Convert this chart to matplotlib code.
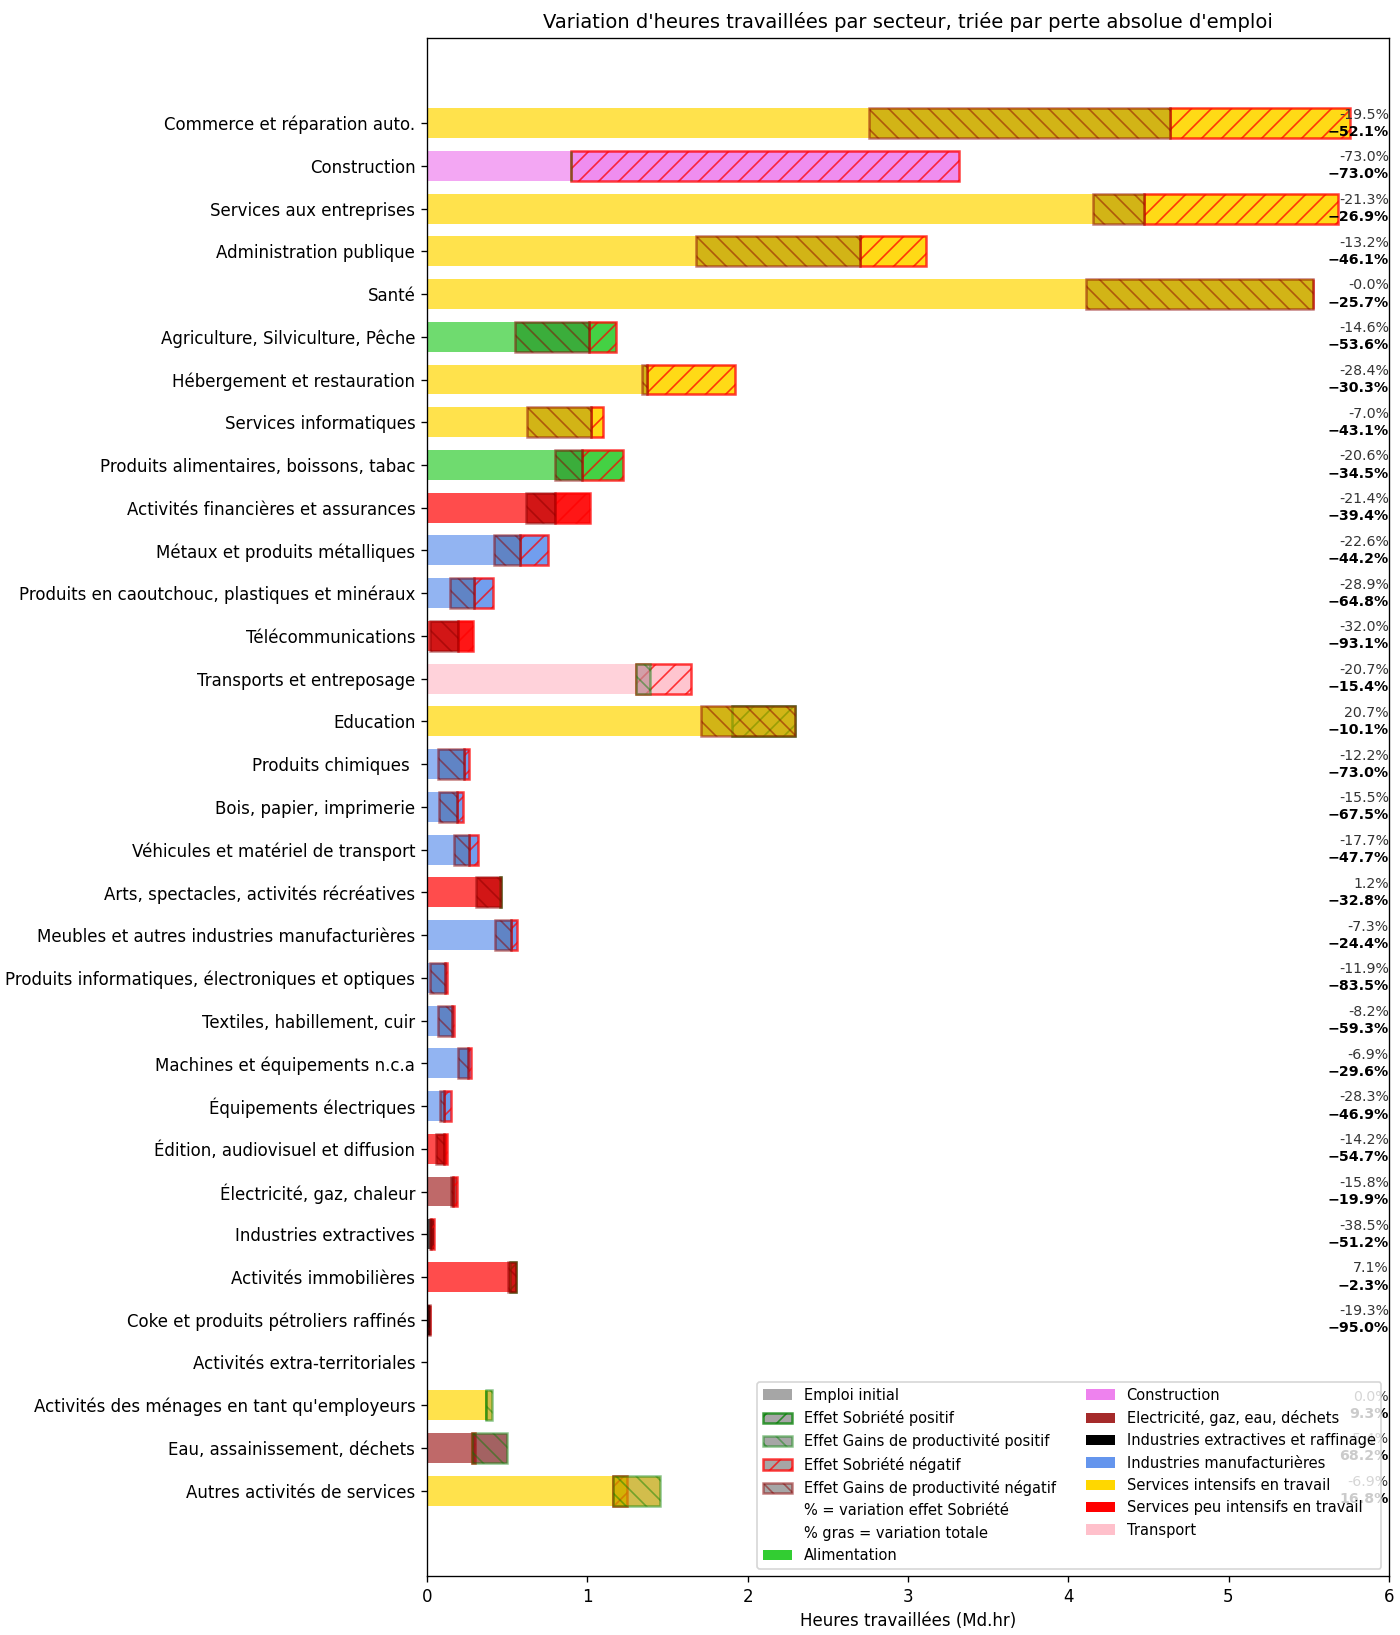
import numpy as np
import matplotlib
matplotlib.use("Agg")
import matplotlib.pyplot as plt
from matplotlib.patches import Patch
from matplotlib.colors import to_rgb


# ================================== data ====================================

secteurs = [
    "Commerce et réparation auto.",
    "Construction",
    "Services aux entreprises",
    "Administration publique",
    "Santé",
    "Agriculture, Silviculture, Pêche",
    "Hébergement et restauration",
    "Services informatiques",
    "Produits alimentaires, boissons, tabac",
    "Activités financières et assurances",
    "Métaux et produits métalliques",
    "Produits en caoutchouc, plastiques et minéraux",
    "Télécommunications",
    "Transports et entreposage",
    "Education",
    "Produits chimiques ",
    "Bois, papier, imprimerie",
    "Véhicules et matériel de transport",
    "Arts, spectacles, activités récréatives",
    "Meubles et autres industries manufacturières",
    "Produits informatiques, électroniques et optiques",
    "Textiles, habillement, cuir",
    "Machines et équipements n.c.a",
    "Équipements électriques",
    "Édition, audiovisuel et diffusion",
    "Électricité, gaz, chaleur",
    "Industries extractives",
    "Activités immobilières",
    "Coke et produits pétroliers raffinés",
    "Activités extra-territoriales",
    "Activités des ménages en tant qu'employeurs",
    "Eau, assainissement, déchets",
    "Autres activités de services",
]

groupes = [
    "Services intensifs en travail", "Construction", "Services intensifs en travail",
    "Services intensifs en travail", "Services intensifs en travail", "Alimentation",
    "Services intensifs en travail", "Services intensifs en travail", "Alimentation",
    "Services peu intensifs en travail", "Industries manufacturières",
    "Industries manufacturières", "Services peu intensifs en travail", "Transport",
    "Services intensifs en travail", "Industries manufacturières",
    "Industries manufacturières", "Industries manufacturières",
    "Services peu intensifs en travail", "Industries manufacturières",
    "Industries manufacturières", "Industries manufacturières",
    "Industries manufacturières", "Industries manufacturières",
    "Services peu intensifs en travail", "Electricité, gaz, eau, déchets",
    "Industries extractives et raffinage", "Services peu intensifs en travail",
    "Industries extractives et raffinage", "Services peu intensifs en travail",
    "Services intensifs en travail", "Electricité, gaz, eau, déchets",
    "Services intensifs en travail",
]

# emploi initial (Md.hr)
emploi_initial = [5.76, 3.32, 5.68, 3.11, 5.53, 1.18, 1.92, 1.10, 1.22, 1.015,
                  0.753, 0.413, 0.288, 1.645, 1.90, 0.262, 0.223, 0.321, 0.454,
                  0.564, 0.125, 0.167, 0.276, 0.152, 0.125, 0.19, 0.042, 0.517,
                  0.02, 0.0, 0.37, 0.298, 1.245]

# variation due a l'effet sobriete (%)
var_sobriete = [-19.5, -73.0, -21.3, -13.2, -0.04, -14.6, -28.4, -7.0, -20.6,
                -21.4, -22.6, -28.9, -32.0, -20.7, 20.7, -12.2, -15.5, -17.7,
                1.2, -7.3, -11.9, -8.2, -6.9, -28.3, -14.2, -15.8, -38.5, 7.1,
                -19.3, np.nan, 0.0, -5.4, -6.9]

# variation totale (%)
var_totale = [-52.1, -73.0, -26.9, -46.1, -25.7, -53.6, -30.3, -43.1, -34.5,
              -39.4, -44.2, -64.8, -93.1, -15.4, -10.1, -73.0, -67.5, -47.7,
              -32.8, -24.4, -83.5, -59.3, -29.6, -46.9, -54.7, -19.9, -51.2,
              -2.3, -95.0, np.nan, 9.3, 68.2, 16.8]

couleurs_groupes = {
    "Alimentation": "limegreen",
    "Construction": "violet",
    "Electricité, gaz, eau, déchets": "brown",
    "Industries extractives et raffinage": "black",
    "Industries manufacturières": "cornflowerblue",
    "Services intensifs en travail": "gold",
    "Services peu intensifs en travail": "red",
    "Transport": "pink",
}


# ================================ helpers ===================================

def rgba(color, alpha):
    r, g, b = to_rgb(color)
    return (r, g, b, alpha)


def darker(color, k=0.75, alpha=0.7):
    r, g, b = to_rgb(color)
    return (r * k, g * k, b * k, alpha)


SOB_NEG = rgba("red", 0.75)
SOB_POS = rgba("green", 0.75)
PROD_NEG = rgba("darkred", 0.5)
PROD_POS = rgba("green", 0.45)
H = 0.7


# ================================= figure ===================================

plt.rcParams["hatch.linewidth"] = 1.0

fig, ax = plt.subplots(figsize=(1400 / 120, 1635 / 120), dpi=120)
fig.subplots_adjust(left=0.305, right=0.992, top=0.977, bottom=0.036)

y = np.arange(len(secteurs))

for i, (ini, s, t, grp) in enumerate(zip(emploi_initial, var_sobriete,
                                         var_totale, groupes)):
    c = couleurs_groupes[grp]
    if ini <= 0 or np.isnan(s):
        continue
    apres_sob = ini * (1 + s / 100)
    final = ini * (1 + t / 100)

    # emploi initial
    ax.barh(y[i], ini, height=H, color=rgba(c, 0.7), lw=0)

    # effet sobriete
    ax.barh(y[i], apres_sob - ini, left=ini, height=H,
            facecolor=rgba(c, 0.7), hatch="//", lw=1.5,
            edgecolor=SOB_NEG if s < 0 else SOB_POS)

    # effet gains de productivite
    ax.barh(y[i], final - apres_sob, left=apres_sob, height=H,
            facecolor=darker(c), hatch="\\\\", lw=1.5,
            edgecolor=PROD_NEG if final < apres_sob else PROD_POS)

    # annotations a droite
    ax.text(6, y[i] - 0.2, f"{s:.1f}%", ha="right", va="center",
            fontsize=8.5, color="#333333", zorder=3)
    ax.text(6, y[i] + 0.2, f"{t:.1f}%".replace("-", "\u2212"), ha="right",
            va="center", fontsize=8.5, fontweight="bold", color="black",
            zorder=3)

ax.set_yticks(y)
ax.set_yticklabels(secteurs)
ax.set_ylim(len(secteurs) + 1, -2)
ax.set_xlim(0, 6)
ax.set_xlabel("Heures travaillées (Md.hr)")
ax.set_title("Variation d'heures travaillées par secteur, "
             "triée par perte absolue d'emploi", fontsize=11.7)

# ================================= legend ===================================

gris = rgba("gray", 0.7)
handles = [
    Patch(facecolor=gris, label="Emploi initial"),
    Patch(facecolor=gris, edgecolor=SOB_POS, hatch="//", lw=1.5,
          label="Effet Sobriété positif"),
    Patch(facecolor=gris, edgecolor=PROD_POS, hatch="\\\\", lw=1.5,
          label="Effet Gains de productivité positif"),
    Patch(facecolor=gris, edgecolor=SOB_NEG, hatch="//", lw=1.5,
          label="Effet Sobriété négatif"),
    Patch(facecolor=gris, edgecolor=PROD_NEG, hatch="\\\\", lw=1.5,
          label="Effet Gains de productivité négatif"),
    Patch(facecolor="none", edgecolor="none",
          label="% = variation effet Sobriété"),
    Patch(facecolor="none", edgecolor="none",
          label="% gras = variation totale"),
]
for grp, c in couleurs_groupes.items():
    handles.append(Patch(facecolor=c, label=grp))

ax.legend(handles=handles, loc="lower right", ncol=2, fontsize=8.8)

fig.savefig("out.png", dpi=120)
